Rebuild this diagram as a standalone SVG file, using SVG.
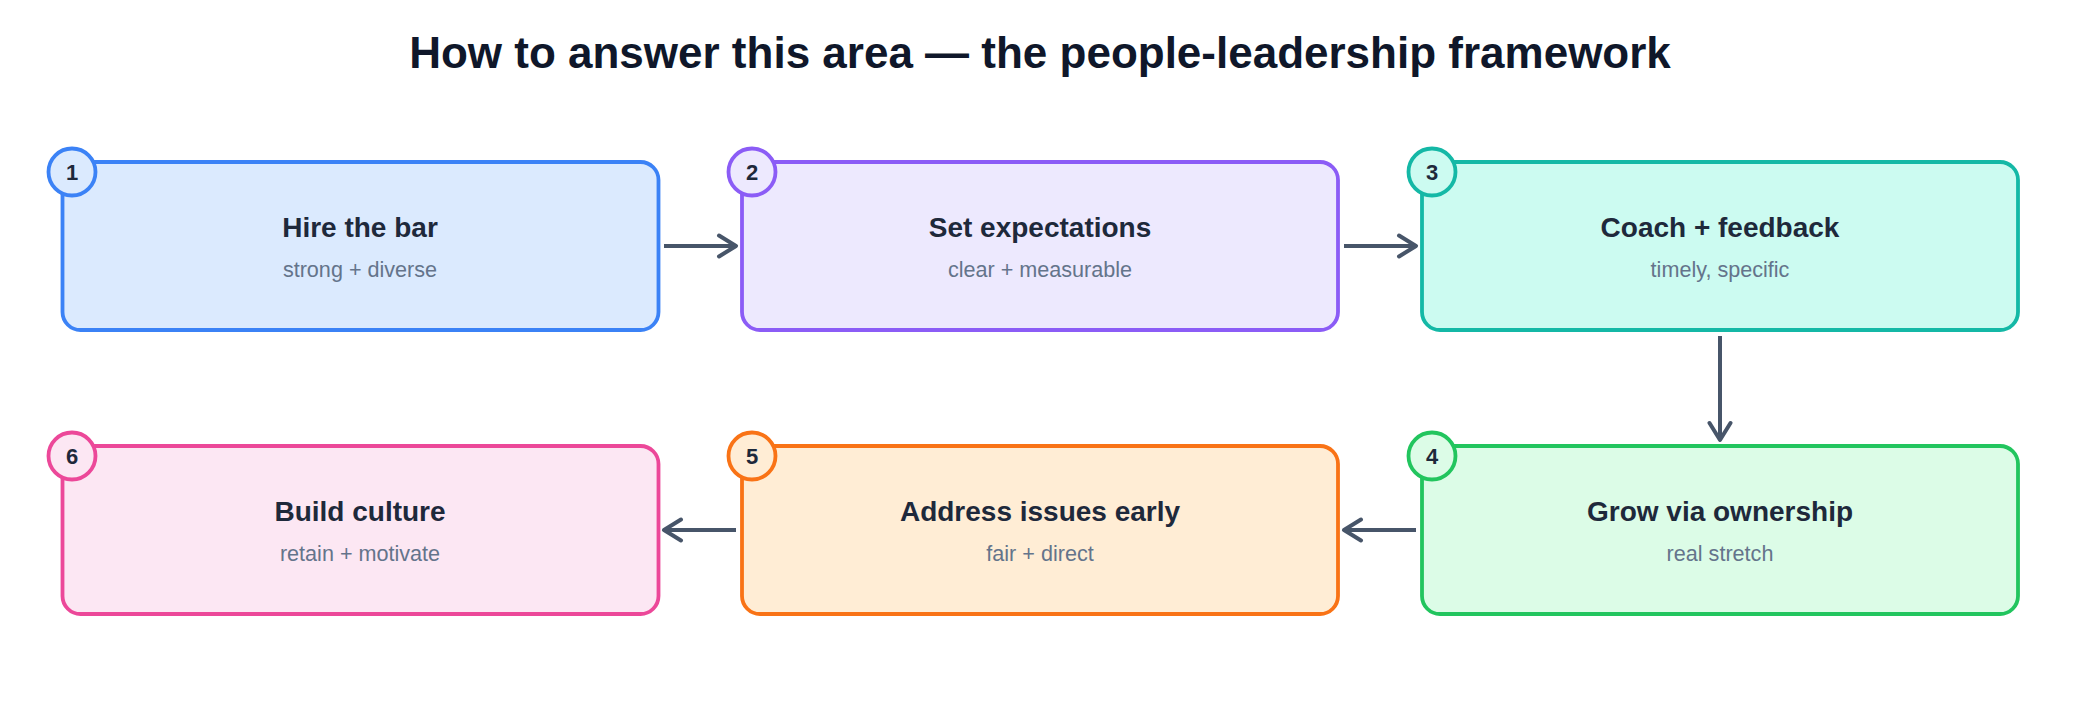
<svg xmlns="http://www.w3.org/2000/svg" width="2080" height="704" viewBox="0 0 2080 704">
<style>
.title{font-family:"Liberation Sans",Arial,sans-serif;font-weight:bold;font-size:44px;fill:#0f172a;text-anchor:middle}
.box{stroke-width:3.8}
.nt{font-family:"Liberation Sans",Arial,sans-serif;font-weight:bold;font-size:28px;fill:#1e293b;text-anchor:middle}
.ns{font-family:"Liberation Sans",Arial,sans-serif;font-size:21.6px;fill:#64748b;text-anchor:middle}
.num{font-family:"Liberation Sans",Arial,sans-serif;font-weight:bold;font-size:22px;fill:#1e293b;text-anchor:middle}
.conn{stroke:#475569;stroke-width:4;fill:none}
.blue rect,.blue circle{fill:#dbeafe;stroke:#3b82f6}
.violet rect,.violet circle{fill:#ede9fe;stroke:#8b5cf6}
.teal rect,.teal circle{fill:#ccfbf1;stroke:#14b8a6}
.green rect,.green circle{fill:#dcfce7;stroke:#22c55e}
.orange rect,.orange circle{fill:#ffedd5;stroke:#f97316}
.pink rect,.pink circle{fill:#fce7f3;stroke:#ec4899}
</style>
<defs>
<marker id="arr" markerUnits="userSpaceOnUse" markerWidth="26" markerHeight="26" refX="21" refY="13" orient="auto">
<path d="M4,2.5 L21,13 L4,23.5" fill="none" stroke="#475569" stroke-width="4" stroke-linecap="round" stroke-linejoin="round"/>
</marker>
</defs>
<rect width="2080" height="704" fill="#ffffff"/>
<text class="title" x="1040" y="68">How to answer this area — the people-leadership framework</text>

<g id="connectors">
<line class="conn" x1="664" y1="246" x2="736" y2="246" marker-end="url(#arr)"/>
<line class="conn" x1="1344" y1="246" x2="1416" y2="246" marker-end="url(#arr)"/>
<line class="conn" x1="1720" y1="336" x2="1720" y2="440" marker-end="url(#arr)"/>
<line class="conn" x1="1416" y1="530" x2="1344" y2="530" marker-end="url(#arr)"/>
<line class="conn" x1="736" y1="530" x2="664" y2="530" marker-end="url(#arr)"/>
</g>

<g id="node1" class="blue">
<rect class="box" x="62.5" y="162" width="596" height="168" rx="18"/>
<text class="nt" x="360" y="237">Hire the bar</text>
<text class="ns" x="360" y="277">strong + diverse</text>
<circle class="box" cx="72" cy="172" r="23.5"/>
<text class="num" x="72" y="180">1</text>
</g>
<g id="node2" class="violet">
<rect class="box" x="742" y="162" width="596" height="168" rx="18"/>
<text class="nt" x="1040" y="237">Set expectations</text>
<text class="ns" x="1040" y="277">clear + measurable</text>
<circle class="box" cx="752" cy="172" r="23.5"/>
<text class="num" x="752" y="180">2</text>
</g>
<g id="node3" class="teal">
<rect class="box" x="1422" y="162" width="596" height="168" rx="18"/>
<text class="nt" x="1720" y="237">Coach + feedback</text>
<text class="ns" x="1720" y="277">timely, specific</text>
<circle class="box" cx="1432" cy="172" r="23.5"/>
<text class="num" x="1432" y="180">3</text>
</g>
<g id="node4" class="green">
<rect class="box" x="1422" y="446" width="596" height="168" rx="18"/>
<text class="nt" x="1720" y="521">Grow via ownership</text>
<text class="ns" x="1720" y="561">real stretch</text>
<circle class="box" cx="1432" cy="456" r="23.5"/>
<text class="num" x="1432" y="464">4</text>
</g>
<g id="node5" class="orange">
<rect class="box" x="742" y="446" width="596" height="168" rx="18"/>
<text class="nt" x="1040" y="521">Address issues early</text>
<text class="ns" x="1040" y="561">fair + direct</text>
<circle class="box" cx="752" cy="456" r="23.5"/>
<text class="num" x="752" y="464">5</text>
</g>
<g id="node6" class="pink">
<rect class="box" x="62.5" y="446" width="596" height="168" rx="18"/>
<text class="nt" x="360" y="521">Build culture</text>
<text class="ns" x="360" y="561">retain + motivate</text>
<circle class="box" cx="72" cy="456" r="23.5"/>
<text class="num" x="72" y="464">6</text>
</g>
</svg>
